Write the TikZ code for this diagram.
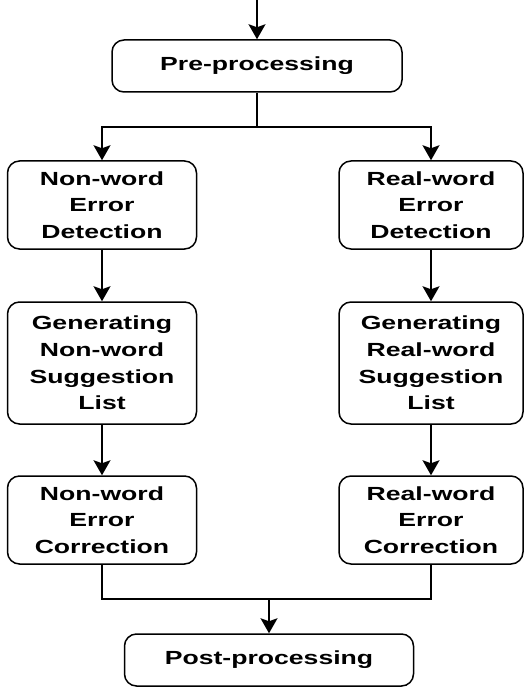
\documentclass[tikz,border=0pt]{standalone}
\usepackage{fontspec}
\usepackage{graphicx}
\usepackage{tikz}
\usetikzlibrary{arrows.meta}

\newfontfamily\boxfont{Liberation Sans Bold}
% one line of box text, set wide
\newcommand{\wl}[1]{\scalebox{1.4}[1]{#1}}

\tikzset{
    box/.style={draw, line width=1.5pt, rounded corners=12pt, align=center,
                font=\boxfont\fontsize{19}{26.7}\selectfont},
    arr/.style={line width=1.5pt, -{Stealth[length=15pt, width=17pt, inset=3pt]}},
    wire/.style={line width=1.5pt}
}

\begin{document}
\begin{tikzpicture}[x=1pt, y=-1pt]
                        \useasboundingbox (0, 0) rectangle (525, 687);

                        \node (pre) at (257, 66) [box, minimum width=290, minimum height=52] {\wl{Pre-processing}};

                        % the two branches
                        \node (ned) at (102, 205) [box, minimum width=189, minimum height=88] {\wl{Non-word}\\\wl{Error}\\\wl{Detection}};
                        \node (red) at (431, 205) [box, minimum width=184, minimum height=88] {\wl{Real-word}\\\wl{Error}\\\wl{Detection}};
                        \node (ngs) at (102, 363) [box, minimum width=189, minimum height=122] {\wl{Generating}\\\wl{Non-word}\\\wl{Suggestion}\\\wl{List}};
                        \node (rgs) at (431, 363) [box, minimum width=184, minimum height=122] {\wl{Generating}\\\wl{Real-word}\\\wl{Suggestion}\\\wl{List}};
                        \node (nec) at (102, 520) [box, minimum width=189, minimum height=88] {\wl{Non-word}\\\wl{Error}\\\wl{Correction}};
                        \node (rec) at (431, 520) [box, minimum width=184, minimum height=88] {\wl{Real-word}\\\wl{Error}\\\wl{Correction}};

                        \node (post) at (269, 660) [box, minimum width=289, minimum height=52] {\wl{Post-processing}};

                        \coordinate (in) at (257, 0);
                        \coordinate (split) at (257, 127);
                        \coordinate (merge) at (269, 599);

                        \draw [arr] (in) -- (pre);
                        \draw [wire] (pre) -- (split);
                        \draw [arr] (split) -| (ned);
                        \draw [arr] (split) -| (red);

                        \draw [arr] (ned) -- (ngs);
                        \draw [arr] (ngs) -- (nec);
                        \draw [arr] (red) -- (rgs);
                        \draw [arr] (rgs) -- (rec);

                        \draw [wire] (nec) |- (merge);
                        \draw [wire] (rec) |- (merge);
                        \draw [arr] (merge) -- (post);

%                         \draw [help lines] (0, 0) grid[step=50] (525, 687);
                    \end{tikzpicture}
\end{document}
